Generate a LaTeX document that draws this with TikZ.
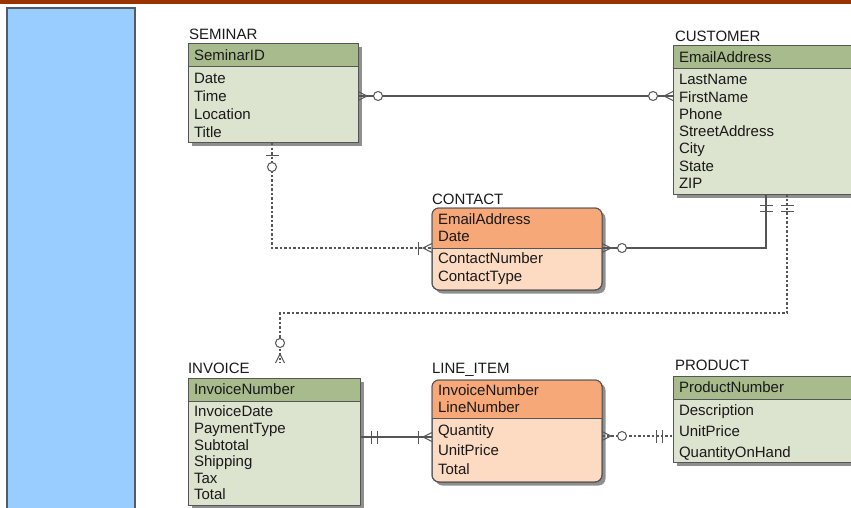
\documentclass[tikz,border=0pt]{standalone}
\usepackage{fontspec}
\setmainfont{Liberation Sans}
\usetikzlibrary{positioning,shadows,backgrounds,calc}

\definecolor{barbrown}{HTML}{993300}
\definecolor{panelblue}{HTML}{99CCFF}
\definecolor{paneledge}{HTML}{4E5C6A}
\definecolor{keygreen}{HTML}{A8BB8C}
\definecolor{attrgreen}{HTML}{DCE3CF}
\definecolor{keyorange}{HTML}{F6A878}
\definecolor{attrorange}{HTML}{FDDAC2}
\definecolor{edgegray}{HTML}{555555}

\tikzset{
	shadowed/.style={drop shadow={shadow xshift=3.5pt, shadow yshift=-3.5pt, fill=black!55, opacity=.8}},
	box/.style={outer sep=0pt, inner xsep=6pt, inner ysep=2pt, align=left},
	strongkey/.style={box, draw=edgegray, line width=1pt, fill=keygreen, minimum height=23pt, shadowed},
	strongattr/.style={box, draw=edgegray, line width=1pt, fill=attrgreen, shadowed},
	weakkey/.style={box},
	weakattr/.style={box},
	etitle/.style={inner sep=0pt, outer sep=0pt},
	rel/.style={draw=edgegray, line width=1.1pt},
	relopt/.style={rel, dash pattern=on 2.5pt off 2pt},
	cardmark/.style={draw=edgegray, line width=1pt, solid},
	% crow's foot ends, drawn pointing away from the entity along +x
	zeromany/.pic={
		\draw[cardmark] (0,-4.5) -- (9,0) -- (0,4.5);
		\draw[cardmark, fill=white] (20,0) circle (4.5pt);
	},
	onemany/.pic={
		\draw[cardmark] (0,-4.5) -- (9,0) -- (0,4.5);
		\draw[cardmark] (14,-6.5) -- (14,6.5);
	},
	zeroone/.pic={
		\draw[cardmark] (12,-6.5) -- (12,6.5);
		\draw[cardmark, fill=white] (24,0) circle (4.5pt);
	},
	exactlyone/.pic={
		\draw[cardmark] (11,-6.5) -- (11,6.5) (17,-6.5) -- (17,6.5);
	},
}

\begin{document}
\begin{tikzpicture}[x=1pt, y=-1pt, every node/.style={font=\fontsize{15}{17}\selectfont, text=black!90}]
	\useasboundingbox (0,0) rectangle (851,508);
	\clip (0,0) rectangle (851,508);

	% top band and side panel
	\fill[barbrown] (0,0) rectangle (851,4.5);
	\draw[paneledge, line width=1.3pt, fill=panelblue] (7,8) rectangle (135,520);

	% SEMINAR
	\node[strongkey, anchor=north west, text width=158pt] (seminar-key) at (188,44) {SeminarID};
	\node[strongattr, below=0pt of seminar-key, text width=158pt, minimum height=76pt, font=\fontsize{15}{18}\selectfont] (seminar) {Date\\Time\\Location\\Title};
	\node[etitle, above right=4pt and 1pt of seminar-key.north west] (seminar-title) {SEMINAR};

	% CUSTOMER
	\node[strongkey, anchor=north west, text width=188pt] (customer-key) at (673,46) {EmailAddress};
	\node[strongattr, below=0pt of customer-key, text width=188pt, minimum height=125pt, font=\fontsize{15}{17.3}\selectfont] (customer) {LastName\\FirstName\\Phone\\StreetAddress\\City\\State\\ZIP};
	\node[etitle, above right=4pt and 2pt of customer-key.north west] (customer-title) {CUSTOMER};

	% CONTACT
	\node[weakkey, anchor=north west, text width=158pt, minimum height=40pt] (contact-key) at (432,208) {EmailAddress\\Date};
	\node[weakattr, below=0pt of contact-key, text width=158pt, minimum height=42pt, font=\fontsize{15}{18}\selectfont] (contact) {ContactNumber\\ContactType};
	\node[etitle, above right=3pt and 0pt of contact-key.north west] (contact-title) {CONTACT};

	% INVOICE
	\node[strongkey, anchor=north west, text width=160pt] (invoice-key) at (188,378) {InvoiceNumber};
	\node[strongattr, below=0pt of invoice-key, text width=160pt, minimum height=104pt, font=\fontsize{15}{16.6}\selectfont] (invoice) {InvoiceDate\\PaymentType\\Subtotal\\Shipping\\Tax\\Total};
	\node[etitle, above right=4pt and 0pt of invoice-key.north west] (invoice-title) {INVOICE};

	% LINE_ITEM
	\node[weakkey, anchor=north west, text width=158pt, minimum height=38pt] (item-key) at (432,380) {InvoiceNumber\\LineNumber};
	\node[weakattr, below=0pt of item-key, text width=158pt, minimum height=64pt, font=\fontsize{15}{19.5}\selectfont] (item) {Quantity\\UnitPrice\\Total};
	\node[etitle, above right=4pt and 0pt of item-key.north west] (item-title) {LINE\_ITEM};

	% PRODUCT
	\node[strongkey, anchor=north west, text width=188pt] (product-key) at (673,376) {ProductNumber};
	\node[strongattr, below=0pt of product-key, text width=188pt, minimum height=62pt, font=\fontsize{15}{21}\selectfont] (product) {\rule{0pt}{14pt}Description\\UnitPrice\\QuantityOnHand};
	\node[etitle, above right=5pt and 2pt of product-key.north west] (product-title) {PRODUCT};

	% rounded boxes of the weak entities
	\begin{scope}[on background layer]
		\foreach \e in {contact,item}{
			\draw[edgegray, line width=1pt, fill=attrorange, rounded corners=7pt, shadowed] (\e-key.north west) rectangle (\e.south east);
			\begin{scope}
				\clip (\e-key.north west) rectangle (\e-key.south east);
				\fill[keyorange, rounded corners=7pt] (\e-key.north west) rectangle (\e.south east);
			\end{scope}
			\draw[edgegray, line width=1pt, rounded corners=7pt] (\e-key.north west) rectangle (\e.south east);
			\draw[edgegray, line width=1pt] (\e-key.south west) -- (\e-key.south east);
		}
	\end{scope}

	% relationships
	\draw[rel] ([yshift=9pt]seminar.east) coordinate (sc1) -- (sc1 -| customer.west) coordinate (sc2);
	\draw[relopt] ([xshift=84pt]seminar.south west) coordinate (st1) |- (contact-key.south west);
	\draw[rel] (contact-key.south east) -| ([xshift=93pt]customer.south west) coordinate (cc1);
	\coordinate (inv-end) at ([xshift=92pt, yshift=15pt]invoice-key.north west);
	\draw[relopt] ([xshift=114pt]customer.south west) coordinate (ci1) -- ++(0,119) -| (inv-end);
	\draw[rel] ([yshift=-19pt]item-key.south west) coordinate (il1) -- (il1 -| invoice.east) coordinate (il2);
	\draw[relopt] ([yshift=-18pt]item-key.south east) coordinate (ip1) -- (ip1 -| product.west) coordinate (ip2);

	% cardinality marks
	\pic at (sc1) {zeromany};
	\pic[rotate=180] at (sc2) {zeromany};
	\pic[rotate=-90] at (st1) {zeroone};
	\pic[rotate=180] at (contact-key.south west) {onemany};
	\pic at (contact-key.south east) {zeromany};
	\pic[rotate=-90] at (cc1) {exactlyone};
	\pic[rotate=-90] at (ci1) {exactlyone};
	\pic[rotate=90] at (inv-end) {zeromany};
	\pic at (il2) {exactlyone};
	\pic[rotate=180] at (il1) {onemany};
	\pic at (ip1) {zeromany};
	\pic[rotate=180] at (ip2) {exactlyone};
\end{tikzpicture}
\end{document}
